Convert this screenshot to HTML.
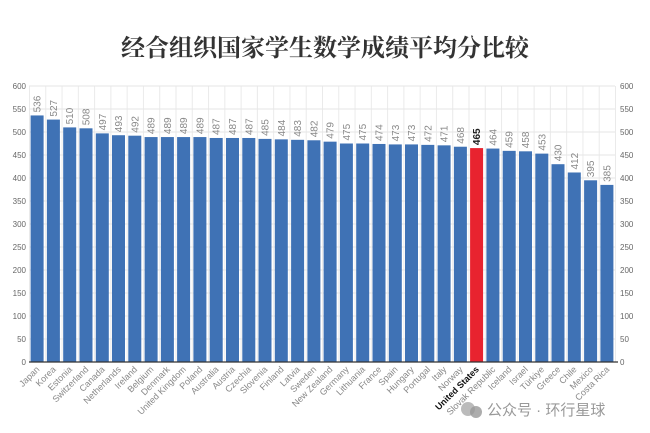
<!DOCTYPE html>
<html><head><meta charset="utf-8"><style>
body{margin:0;background:#fff;width:650px;height:433px;overflow:hidden}
svg{display:block}
</style></head><body>
<svg width="650" height="433" xmlns="http://www.w3.org/2000/svg" font-family="Liberation Sans, sans-serif">
<defs>
<pattern id="vg" x="29" y="0" width="16.2778" height="10" patternUnits="userSpaceOnUse"><line x1="0.5" y1="0" x2="0.5" y2="10" stroke="#eaeaea" stroke-width="1"/></pattern>
</defs>
<text x="325" y="56" text-anchor="middle" font-family="Liberation Serif, Noto Serif CJK SC, serif" font-weight="bold" font-size="24" fill="#333">经合组织国家学生数学成绩平均分比较</text>
<rect x="29" y="86" width="587" height="276" fill="url(#vg)"/>
<g stroke="#e6e6e6" stroke-width="1">
<line x1="29" x2="615" y1="86" y2="86"/><line x1="29" x2="615" y1="109" y2="109"/><line x1="29" x2="615" y1="132" y2="132"/><line x1="29" x2="615" y1="155" y2="155"/><line x1="29" x2="615" y1="178" y2="178"/><line x1="29" x2="615" y1="201" y2="201"/><line x1="29" x2="615" y1="224" y2="224"/><line x1="29" x2="615" y1="247" y2="247"/><line x1="29" x2="615" y1="270" y2="270"/><line x1="29" x2="615" y1="293" y2="293"/><line x1="29" x2="615" y1="316" y2="316"/><line x1="29" x2="615" y1="339" y2="339"/>
</g>
<g font-size="8" fill="#666" text-anchor="end">
<text x="26" y="89">600</text><text x="26" y="112">550</text><text x="26" y="135">500</text><text x="26" y="158">450</text><text x="26" y="181">400</text><text x="26" y="204">350</text><text x="26" y="227">300</text><text x="26" y="250">250</text><text x="26" y="273">200</text><text x="26" y="296">150</text><text x="26" y="319">100</text><text x="26" y="342">50</text><text x="26" y="365">0</text>
</g>
<g font-size="8" fill="#666">
<text x="620" y="89">600</text><text x="620" y="112">550</text><text x="620" y="135">500</text><text x="620" y="158">450</text><text x="620" y="181">400</text><text x="620" y="204">350</text><text x="620" y="227">300</text><text x="620" y="250">250</text><text x="620" y="273">200</text><text x="620" y="296">150</text><text x="620" y="319">100</text><text x="620" y="342">50</text><text x="620" y="365">0</text>
</g>
<g transform="translate(0,362) scale(1,-0.46)" fill="#3f72b5">
<rect x="30.6" y="0" width="13" height="536"/>
<rect x="46.9" y="0" width="13" height="527"/>
<rect x="63.2" y="0" width="13" height="510"/>
<rect x="79.5" y="0" width="13" height="508"/>
<rect x="95.8" y="0" width="13" height="497"/>
<rect x="112.0" y="0" width="13" height="493"/>
<rect x="128.3" y="0" width="13" height="492"/>
<rect x="144.6" y="0" width="13" height="489"/>
<rect x="160.9" y="0" width="13" height="489"/>
<rect x="177.1" y="0" width="13" height="489"/>
<rect x="193.4" y="0" width="13" height="489"/>
<rect x="209.7" y="0" width="13" height="487"/>
<rect x="226.0" y="0" width="13" height="487"/>
<rect x="242.3" y="0" width="13" height="487"/>
<rect x="258.5" y="0" width="13" height="485"/>
<rect x="274.8" y="0" width="13" height="484"/>
<rect x="291.1" y="0" width="13" height="483"/>
<rect x="307.4" y="0" width="13" height="482"/>
<rect x="323.6" y="0" width="13" height="479"/>
<rect x="339.9" y="0" width="13" height="475"/>
<rect x="356.2" y="0" width="13" height="475"/>
<rect x="372.5" y="0" width="13" height="474"/>
<rect x="388.8" y="0" width="13" height="473"/>
<rect x="405.0" y="0" width="13" height="473"/>
<rect x="421.3" y="0" width="13" height="472"/>
<rect x="437.6" y="0" width="13" height="471"/>
<rect x="453.9" y="0" width="13" height="468"/>
<rect x="470.1" y="0" width="13" height="465" fill="#e8232f"/>
<rect x="486.4" y="0" width="13" height="464"/>
<rect x="502.7" y="0" width="13" height="459"/>
<rect x="519.0" y="0" width="13" height="458"/>
<rect x="535.3" y="0" width="13" height="453"/>
<rect x="551.5" y="0" width="13" height="430"/>
<rect x="567.8" y="0" width="13" height="412"/>
<rect x="584.1" y="0" width="13" height="395"/>
<rect x="600.4" y="0" width="13" height="385"/>
</g>
<g font-size="10" fill="#888">
<text transform="translate(40.6,112.4) rotate(-90)">536</text>
<text transform="translate(56.9,116.6) rotate(-90)">527</text>
<text transform="translate(73.2,124.4) rotate(-90)">510</text>
<text transform="translate(89.5,125.3) rotate(-90)">508</text>
<text transform="translate(105.8,130.4) rotate(-90)">497</text>
<text transform="translate(122.0,132.2) rotate(-90)">493</text>
<text transform="translate(138.3,132.7) rotate(-90)">492</text>
<text transform="translate(154.6,134.1) rotate(-90)">489</text>
<text transform="translate(170.9,134.1) rotate(-90)">489</text>
<text transform="translate(187.1,134.1) rotate(-90)">489</text>
<text transform="translate(203.4,134.1) rotate(-90)">489</text>
<text transform="translate(219.7,135.0) rotate(-90)">487</text>
<text transform="translate(236.0,135.0) rotate(-90)">487</text>
<text transform="translate(252.3,135.0) rotate(-90)">487</text>
<text transform="translate(268.5,135.9) rotate(-90)">485</text>
<text transform="translate(284.8,136.4) rotate(-90)">484</text>
<text transform="translate(301.1,136.8) rotate(-90)">483</text>
<text transform="translate(317.4,137.3) rotate(-90)">482</text>
<text transform="translate(333.6,138.7) rotate(-90)">479</text>
<text transform="translate(349.9,140.5) rotate(-90)">475</text>
<text transform="translate(366.2,140.5) rotate(-90)">475</text>
<text transform="translate(382.5,141.0) rotate(-90)">474</text>
<text transform="translate(398.8,141.4) rotate(-90)">473</text>
<text transform="translate(415.0,141.4) rotate(-90)">473</text>
<text transform="translate(431.3,141.9) rotate(-90)">472</text>
<text transform="translate(447.6,142.3) rotate(-90)">471</text>
<text transform="translate(463.9,143.7) rotate(-90)">468</text>
<text transform="translate(480.1,145.1) rotate(-90)" fill="#222" font-weight="bold">465</text>
<text transform="translate(496.4,145.6) rotate(-90)">464</text>
<text transform="translate(512.7,147.9) rotate(-90)">459</text>
<text transform="translate(529.0,148.3) rotate(-90)">458</text>
<text transform="translate(545.3,150.6) rotate(-90)">453</text>
<text transform="translate(561.5,161.2) rotate(-90)">430</text>
<text transform="translate(577.8,169.5) rotate(-90)">412</text>
<text transform="translate(594.1,177.3) rotate(-90)">395</text>
<text transform="translate(610.4,181.9) rotate(-90)">385</text>
</g>
<g font-size="9" fill="#888" text-anchor="end">
<text transform="translate(40.1,370) rotate(-45)">Japan</text>
<text transform="translate(56.4,370) rotate(-45)">Korea</text>
<text transform="translate(72.7,370) rotate(-45)">Estonia</text>
<text transform="translate(89.0,370) rotate(-45)">Switzerland</text>
<text transform="translate(105.3,370) rotate(-45)">Canada</text>
<text transform="translate(121.5,370) rotate(-45)">Netherlands</text>
<text transform="translate(137.8,370) rotate(-45)">Ireland</text>
<text transform="translate(154.1,370) rotate(-45)">Belgium</text>
<text transform="translate(170.4,370) rotate(-45)">Denmark</text>
<text transform="translate(186.6,370) rotate(-45)">United Kingdom</text>
<text transform="translate(202.9,370) rotate(-45)">Poland</text>
<text transform="translate(219.2,370) rotate(-45)">Australia</text>
<text transform="translate(235.5,370) rotate(-45)">Austria</text>
<text transform="translate(251.8,370) rotate(-45)">Czechia</text>
<text transform="translate(268.0,370) rotate(-45)">Slovenia</text>
<text transform="translate(284.3,370) rotate(-45)">Finland</text>
<text transform="translate(300.6,370) rotate(-45)">Latvia</text>
<text transform="translate(316.9,370) rotate(-45)">Sweden</text>
<text transform="translate(333.1,370) rotate(-45)">New Zealand</text>
<text transform="translate(349.4,370) rotate(-45)">Germany</text>
<text transform="translate(365.7,370) rotate(-45)">Lithuania</text>
<text transform="translate(382.0,370) rotate(-45)">France</text>
<text transform="translate(398.3,370) rotate(-45)">Spain</text>
<text transform="translate(414.5,370) rotate(-45)">Hungary</text>
<text transform="translate(430.8,370) rotate(-45)">Portugal</text>
<text transform="translate(447.1,370) rotate(-45)">Italy</text>
<text transform="translate(463.4,370) rotate(-45)">Norway</text>
<text transform="translate(479.6,370) rotate(-45)" fill="#111" font-weight="bold">United States</text>
<text transform="translate(495.9,370) rotate(-45)">Slovak Republic</text>
<text transform="translate(512.2,370) rotate(-45)">Iceland</text>
<text transform="translate(528.5,370) rotate(-45)">Israel</text>
<text transform="translate(544.8,370) rotate(-45)">Türkiye</text>
<text transform="translate(561.0,370) rotate(-45)">Greece</text>
<text transform="translate(577.3,370) rotate(-45)">Chile</text>
<text transform="translate(593.6,370) rotate(-45)">Mexico</text>
<text transform="translate(609.9,370) rotate(-45)">Costa Rica</text>
</g>
<line x1="29" x2="618" y1="362" y2="362" stroke="#333" stroke-width="1.2"/>
<circle cx="468" cy="409" r="7" fill="#aaa" opacity="0.8"/><circle cx="476" cy="412" r="6" fill="#999" opacity="0.8"/>
<text x="487" y="415" font-family="Liberation Sans, Noto Sans CJK SC, sans-serif" font-size="15" fill="#999">公众号 · 环行星球</text>
</svg>
</body></html>
